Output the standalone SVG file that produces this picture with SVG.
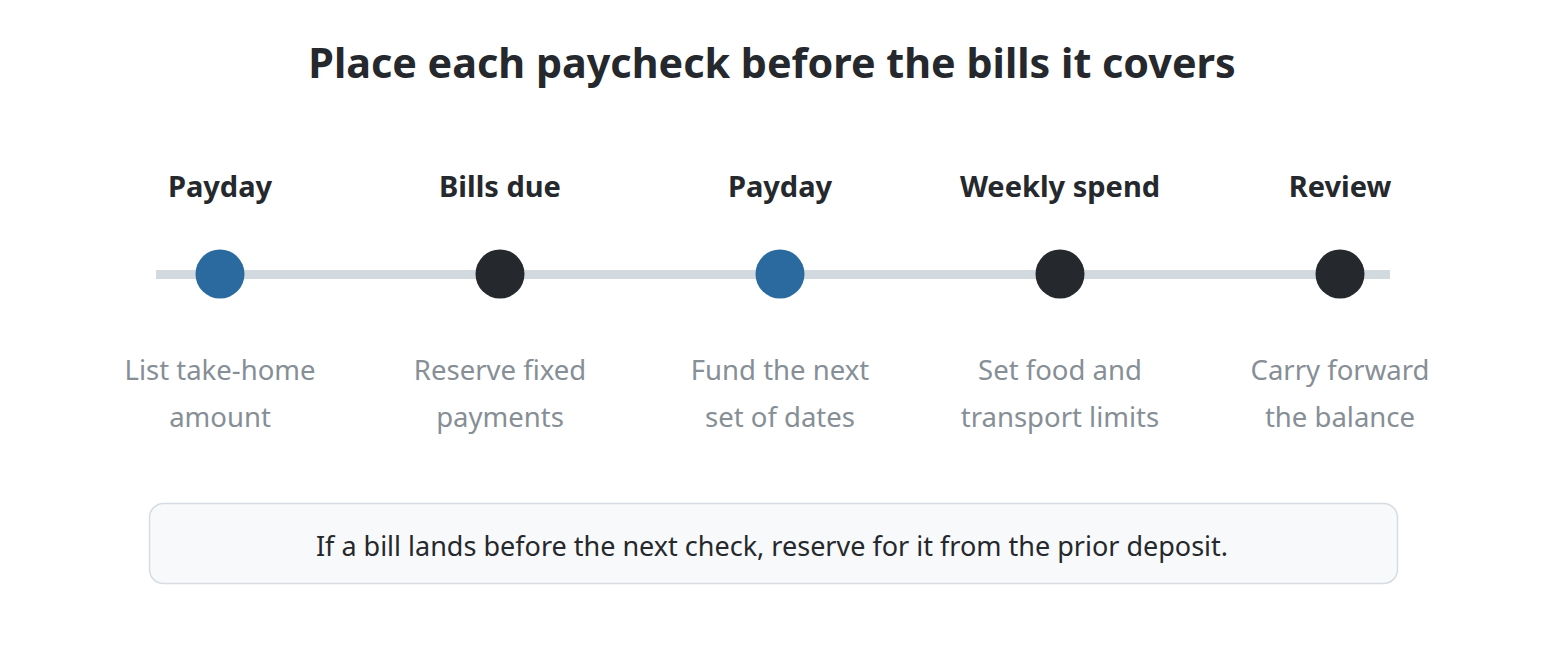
<svg xmlns="http://www.w3.org/2000/svg" width="1546" height="660" viewBox="0 0 1546 660">
<style>
.t{font-family:"Source Sans Pro","Noto Sans","Liberation Sans",sans-serif;text-anchor:middle}
.title{font-size:41.3px;font-weight:700;fill:#25282c}
.lab{font-size:29px;font-weight:700;fill:#25282c}
.desc{font-size:27.5px;fill:#868e96}
.note{font-size:27px;fill:#25282c}
.blue{fill:#2b6a9f}
.dark{fill:#25282c}
</style>
<rect width="1546" height="660" fill="#ffffff"/>
<text class="t title" x="772" y="78">Place each paycheck before the bills it covers</text>
<g id="connectors">
<rect x="156" y="270" width="1234" height="9" fill="#d2dae0"/>
</g>
<g id="n1"><text class="t lab" x="220" y="197">Payday</text><circle class="blue" cx="220" cy="274" r="24.5"/><text class="t desc" x="220" y="380">List take-home</text><text class="t desc" x="220" y="427">amount</text></g>
<g id="n2"><text class="t lab" x="500" y="197">Bills due</text><circle class="dark" cx="500" cy="274" r="24.5"/><text class="t desc" x="500" y="380">Reserve fixed</text><text class="t desc" x="500" y="427">payments</text></g>
<g id="n3"><text class="t lab" x="780" y="197">Payday</text><circle class="blue" cx="780" cy="274" r="24.5"/><text class="t desc" x="780" y="380">Fund the next</text><text class="t desc" x="780" y="427">set of dates</text></g>
<g id="n4"><text class="t lab" x="1060" y="197">Weekly spend</text><circle class="dark" cx="1060" cy="274" r="24.5"/><text class="t desc" x="1060" y="380">Set food and</text><text class="t desc" x="1060" y="427">transport limits</text></g>
<g id="n5"><text class="t lab" x="1340" y="197">Review</text><circle class="dark" cx="1340" cy="274" r="24.5"/><text class="t desc" x="1340" y="380">Carry forward</text><text class="t desc" x="1340" y="427">the balance</text></g>
<g id="note"><rect x="149.5" y="503.5" width="1248" height="80" rx="14" fill="#f8f9fa" stroke="#d6dce1" stroke-width="1.5"/><text class="t note" x="772" y="556">If a bill lands before the next check, reserve for it from the prior deposit.</text></g>
</svg>
